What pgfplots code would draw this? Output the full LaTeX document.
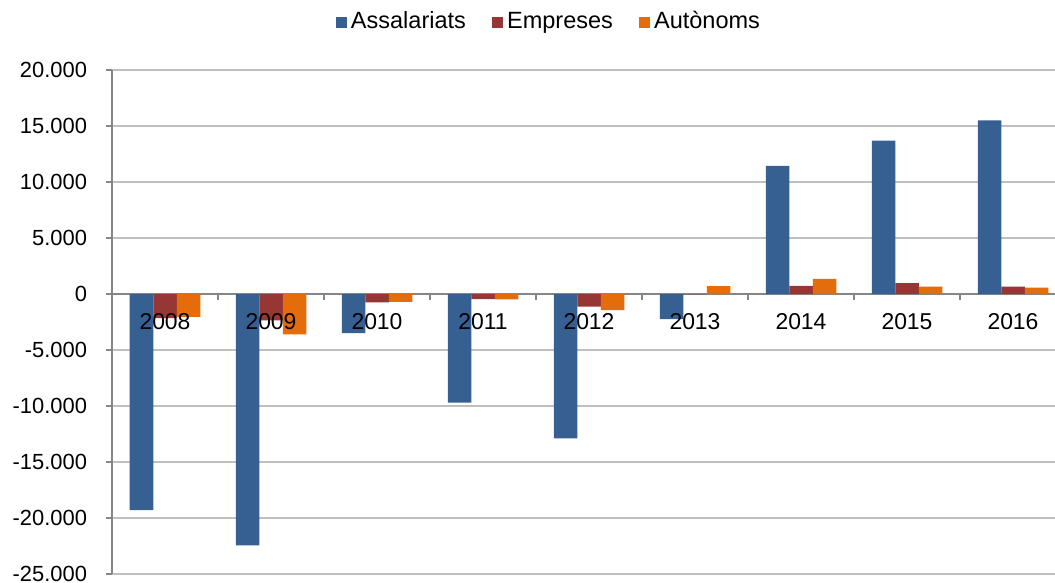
\documentclass[border=0pt]{standalone}
\usepackage{fontspec}
\setmainfont{Liberation Sans}
\usepackage{pgfplots}
\pgfplotsset{compat=1.18}
\definecolor{cBlue}{RGB}{54,96,146}
\definecolor{cRed}{RGB}{150,55,53}
\definecolor{cOrange}{RGB}{228,108,10}
\definecolor{cGrid}{RGB}{191,191,191}
\definecolor{cAxis}{RGB}{134,134,134}
\tikzset{yearlab/.style={font=\fontsize{11.5}{13}\selectfont, anchor=center, yshift=-14bp}}
\begin{document}
\begin{tikzpicture}
\begin{axis}[
  at={(56bp,4.5bp)}, anchor=south west,
  scale only axis, width=477bp, height=252bp,
  ybar=0pt, bar width=11.75bp,
  xmin=-0.5, xmax=8.5,
  ymin=-25000, ymax=20000,
  ytick={-25000,-20000,...,20000},
  scaled y ticks=false,
  xtick={0,...,8},
  xticklabels={},
  minor xtick={-0.5,0.5,...,8.5},
  axis y line*=left,
  axis x line*=middle,
  axis line style={cAxis, line width=0.8pt},
  ymajorgrids, grid style={cGrid, line width=0.8pt},
  tick align=outside,
  major tick length=3bp, minor tick length=3bp,
  x tick style={draw=none},
  minor x tick style={draw=cAxis, line width=0.8pt},
  y tick style={cAxis, line width=0.8pt},
  tick label style={font=\fontsize{11}{13}\selectfont, text=black},
  yticklabel style={xshift=-6bp, /pgf/number format/fixed, /pgf/number format/1000 sep={.}, /pgf/number format/assume math mode=true},
  legend columns=3,
  legend style={at={(0.459,1.095)}, anchor=center, draw=none, fill=none,
    font=\fontsize{11.8}{13}\selectfont, /tikz/every even column/.append style={column sep=11bp},
    nodes={text height=8.6bp, text depth=2.6bp},
    inner sep=0pt},
  legend image code/.code={\fill[#1] (-1.2bp,-2.8bp) rectangle (4.4bp,2.8bp);},
  every axis plot/.append style={draw=none},
]
\addplot[fill=cBlue] coordinates {(0,-19300) (1,-22450) (2,-3500) (3,-9700) (4,-12900) (5,-2250) (6,11430) (7,13690) (8,15500)};
\addplot[fill=cRed] coordinates {(0,-2150) (1,-2350) (2,-750) (3,-450) (4,-1130) (5,-30) (6,720) (7,980) (8,650)};
\addplot[fill=cOrange] coordinates {(0,-2050) (1,-3600) (2,-700) (3,-480) (4,-1450) (5,700) (6,1340) (7,650) (8,560)};
\legend{Assalariats,Empreses,Autònoms}
\node[yearlab] at (axis cs:0,0) {2008};
\node[yearlab] at (axis cs:1,0) {2009};
\node[yearlab] at (axis cs:2,0) {2010};
\node[yearlab] at (axis cs:3,0) {2011};
\node[yearlab] at (axis cs:4,0) {2012};
\node[yearlab] at (axis cs:5,0) {2013};
\node[yearlab] at (axis cs:6,0) {2014};
\node[yearlab] at (axis cs:7,0) {2015};
\node[yearlab] at (axis cs:8,0) {2016};
\end{axis}
\pgfresetboundingbox
\path (0,0) rectangle (527.5bp,291.5bp);
\end{tikzpicture}
\end{document}
